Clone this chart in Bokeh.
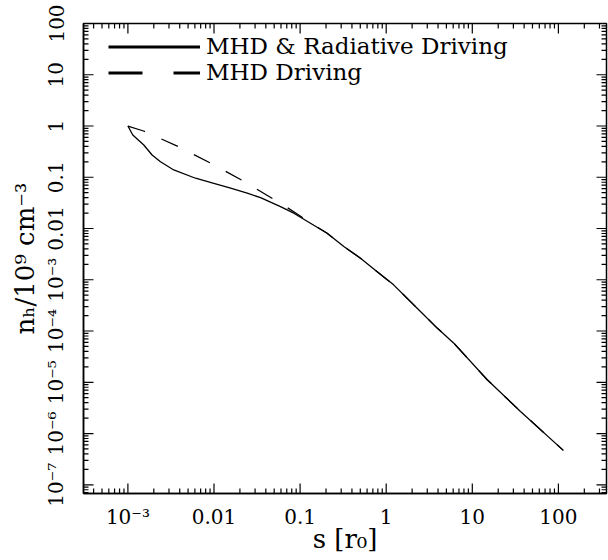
import math
from bokeh.plotting import figure
from bokeh.models import (FixedTicker, CustomJSTickFormatter, Legend,
                          LegendItem, Range1d)
from bokeh.embed import file_html
from bokeh.resources import INLINE

# ---- data ----
s_rad = [0.00100, 0.00114, 0.00153, 0.00191, 0.00239, 0.00341, 0.00610, 0.00995,
         0.0156, 0.0243, 0.0347, 0.0592, 0.0845, 0.206, 0.322, 0.503, 0.786,
         1.22, 2.50, 3.91, 6.10, 14.9, 36.3, 114.0]
n_rad = [1.00, 0.668, 0.426, 0.272, 0.201, 0.139, 0.0957, 0.0764,
         0.0611, 0.0488, 0.0400, 0.0267, 0.0199, 0.00809, 0.00444, 0.00264, 0.00144,
         0.000796, 0.000240, 0.000114, 5.8e-5, 1.12e-5, 2.70e-6, 4.69e-7]

s_mhd = [0.00100, 0.00152, 0.00387, 0.00953, 0.0232, 0.0542, 0.0845, 0.125,
         0.206, 0.322, 0.503, 0.786, 1.22, 2.50, 3.91, 6.10, 14.9, 36.3, 114.0]
n_mhd = [1.00, 0.799, 0.395, 0.182, 0.080, 0.0338, 0.0213, 0.0136,
         0.00809, 0.00444, 0.00264, 0.00144, 0.000796, 0.000240, 0.000114,
         5.8e-5, 1.12e-5, 2.70e-6, 4.69e-7]

series_names = ["MHD & Radiative Driving", "MHD Driving"]

x_ticks = [1e-3, 1e-2, 1e-1, 1.0, 10.0, 100.0]
x_tick_labels = ["10⁻³", "0.01", "0.1", "1", "10", "100"]
y_ticks = [1e-7, 1e-6, 1e-5, 1e-4, 1e-3, 1e-2, 1e-1, 1.0, 10.0, 100.0]
y_tick_labels = ["10⁻⁷", "10⁻⁶", "10⁻⁵", "10⁻⁴", "10⁻³", "0.01", "0.1", "1", "10", "100"]

x_range = (3.05e-4, 362.0)
y_range = (6.76e-8, 100.0)

FONT = "DejaVu Serif"
FW, FH = 523, 470          # frame size in px

lx0, lx1 = math.log10(x_range[0]), math.log10(x_range[1])
ly0, ly1 = math.log10(y_range[0]), math.log10(y_range[1])
DX = (lx1 - lx0) / FW      # decades per px
DY = (ly1 - ly0) / FH
NAN = float("nan")


def minor(lo_exp, hi_exp, lo, hi):
    out = []
    for e in range(lo_exp, hi_exp + 1):
        for m in range(2, 10):
            v = m * 10.0 ** e
            if lo <= v <= hi:
                out.append(v)
    return out


x_minor = minor(-4, 2, *x_range)
y_minor = minor(-8, 2, *y_range)


def fmt(vals, labs):
    return CustomJSTickFormatter(args=dict(vals=vals, labs=labs), code="""
        for (let i = 0; i < vals.length; i++) {
            if (Math.abs(Math.log10(vals[i]) - Math.log10(tick)) < 1e-6) return labs[i];
        }
        return "";
    """)


p = figure(x_axis_type="log", y_axis_type="log",
           x_range=Range1d(*x_range), y_range=Range1d(*y_range),
           frame_width=FW, frame_height=FH,
           min_border_left=83, min_border_top=23, min_border_right=2, min_border_bottom=50,
           output_backend="svg", toolbar_location=None,
           background_fill_color=None, border_fill_color=None)

p.xgrid.visible = False
p.ygrid.visible = False
p.outline_line_color = "black"
p.outline_line_width = 1.5


def style_axis(ax):
    ax.axis_line_color = "black"
    ax.axis_line_width = 1.5
    ax.major_tick_in = 0
    ax.major_tick_out = 0
    ax.minor_tick_in = 0
    ax.minor_tick_out = 0
    ax.major_label_text_font = FONT
    ax.major_label_text_font_size = "20px"
    ax.major_label_text_color = "black"


bx = p.xaxis[0]
bx.ticker = FixedTicker(ticks=x_ticks, minor_ticks=[])
bx.formatter = fmt(x_ticks, x_tick_labels)
style_axis(bx)
bx.major_label_standoff = 11
bx.axis_label = "s [r₀]"
bx.axis_label_text_font = FONT
bx.axis_label_text_font_size = "26px"
bx.axis_label_text_font_style = "normal"
bx.axis_label_text_color = "black"
bx.axis_label_standoff = -8

ly = p.yaxis[0]
ly.ticker = FixedTicker(ticks=y_ticks, minor_ticks=[])
ly.formatter = fmt(y_ticks, y_tick_labels)
style_axis(ly)
ly.major_label_orientation = "vertical"
ly.major_label_standoff = 15
ly.axis_label = "nₕ/10⁹ cm⁻³"
ly.axis_label_text_font = FONT
ly.axis_label_text_font_size = "26px"
ly.axis_label_text_font_style = "normal"
ly.axis_label_text_color = "black"
ly.axis_label_standoff = 2


# inward ticks on all four sides, drawn as one broken line per side
def xin(px):
    return 10 ** (lx0 + px * DX)


def xinr(px):
    return 10 ** (lx1 - px * DX)


def yin(px):
    return 10 ** (ly0 + px * DY)


def yint(px):
    return 10 ** (ly1 - px * DY)


def tick_path(vals, L, side):
    xs, ys = [], []
    for v in vals:
        if side == "left":
            xs += [x_range[0], xin(L), NAN]
            ys += [v, v, NAN]
        elif side == "right":
            xs += [x_range[1], xinr(L), NAN]
            ys += [v, v, NAN]
        elif side == "bottom":
            xs += [v, v, NAN]
            ys += [y_range[0], yin(L), NAN]
        else:
            xs += [v, v, NAN]
            ys += [y_range[1], yint(L), NAN]
    return xs, ys


for side in ("left", "right"):
    for vals, L in ((y_ticks, 10), (y_minor, 5)):
        xs, ys = tick_path(vals, L, side)
        p.line(xs, ys, line_color="black", line_width=1.2)
for side in ("bottom", "top"):
    for vals, L in ((x_ticks, 10), (x_minor, 5)):
        xs, ys = tick_path(vals, L, side)
        p.line(xs, ys, line_color="black", line_width=1.2)

# curves
p.line(s_rad, n_rad, line_color="black", line_width=1.3)
p.line(s_mhd, n_mhd, line_color="black", line_width=1.3, line_dash="18 18")

# legend proxies (thicker lines as in the reference legend), hidden in the plot
r1 = p.line(s_rad, n_rad, line_color="black", line_width=3, visible=False)
r2 = p.line(s_mhd, n_mhd, line_color="black", line_width=3, line_dash="34 31", visible=False)
legend = Legend(items=[LegendItem(label=series_names[0], renderers=[r1]),
                       LegendItem(label=series_names[1], renderers=[r2])],
                location=(25, 408), margin=0, padding=0, spacing=0,
                glyph_width=92, glyph_height=23, label_height=23, label_standoff=6,
                label_text_font=FONT, label_text_font_size="23px", label_text_color="black",
                border_line_color=None, background_fill_alpha=0,
                inactive_fill_alpha=0)
p.add_layout(legend, "center")

open("out.html", "w").write(file_html(p, INLINE))
